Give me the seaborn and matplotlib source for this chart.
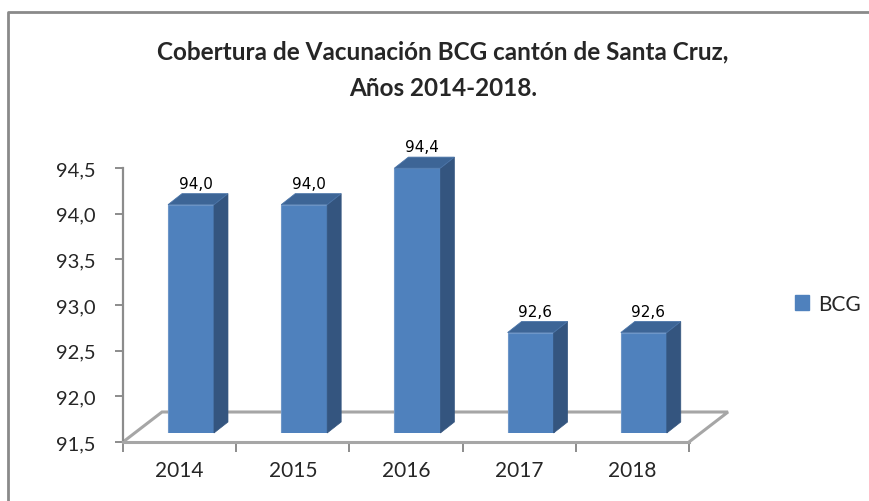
import matplotlib
matplotlib.use("Agg")
import matplotlib.pyplot as plt
from matplotlib.patches import Polygon, Rectangle
from matplotlib.lines import Line2D
import seaborn as sns
import pandas as pd

# ---- data ----
years = ["2014", "2015", "2016", "2017", "2018"]
bcg = [94.0, 94.0, 94.4, 92.6, 92.6]
value_labels = ["94,0", "94,0", "94,4", "92,6", "92,6"]
y_ticks = [91.5, 92.0, 92.5, 93.0, 93.5, 94.0, 94.5]
y_tick_labels = ["91,5", "92,0", "92,5", "93,0", "93,5", "94,0", "94,5"]
series_name = "BCG"
title_line1 = "Cobertura de Vacunación BCG cantón de Santa Cruz,"
title_line2 = "Años 2014-2018."

df = pd.DataFrame({"Año": years, "BCG": bcg})

sns.set_theme(style="white")
plt.rcParams["font.family"] = ["Lato", "DejaVu Sans"]

W, H = 870, 502
fig = plt.figure(figsize=(W / 100, H / 100), dpi=100)

FRONT = "#4F81BD"
SIDE = "#34557F"
TOP = "#3D6596"
GRID = "#A6A6A6"
AXC = "#8C8C8C"

def fpos(x0, ybot, w, h):
    return [x0 / W, 1 - ybot / H, w / W, h / H]

# front plane axes (axis, ticks, floor)
axw, axh = 566, 274
axA = fig.add_axes(fpos(123, 443, axw, axh))
# bar plane axes (shifted into depth)
bdx, bdy = 11.4, 9
axB = fig.add_axes(fpos(123 + bdx, 443 - bdy, axw, axh))

ylo, yhi = 91.5, 94.5
for a in (axA, axB):
    a.set_xlim(-0.5, len(years) - 0.5)
    a.set_ylim(ylo, yhi)
axB.patch.set_alpha(0)
axA.patch.set_alpha(0)

# px -> data scale
sx = (len(years)) / axw
sy = (yhi - ylo) / axh

# floor (behind bars)
FDX, FDY = 39 * sx, 30 * sy
x_left, x_right = -0.5, len(years) - 0.5
floor = [(x_left, ylo), (x_left + FDX, ylo + FDY), (x_right + FDX, ylo + FDY), (x_right, ylo)]
axA.add_line(Line2D([p[0] for p in floor], [p[1] for p in floor], color=GRID, lw=2.2,
                    clip_on=False, solid_joinstyle="miter"))

# bars
sns.barplot(data=df, x="Año", y="BCG", ax=axB, width=0.406, color=FRONT, saturation=1,
            edgecolor="#6E96C8", linewidth=0.8)
axB.set_xlim(-0.5, len(years) - 0.5)
axB.set_ylim(ylo, yhi)

DDX, DDY = 14 * sx, 11 * sy
for p, lab in zip(axB.patches, value_labels):
    x0 = p.get_x()
    x1 = x0 + p.get_width()
    v = p.get_y() + p.get_height()
    side = Polygon([(x1, ylo), (x1, v), (x1 + DDX, v + DDY), (x1 + DDX, ylo + DDY)],
                   closed=True, facecolor=SIDE, edgecolor=SIDE, lw=0.5, clip_on=False, zorder=2)
    top = Polygon([(x0, v), (x1, v), (x1 + DDX, v + DDY), (x0 + DDX, v + DDY)],
                  closed=True, facecolor=TOP, edgecolor="#4A74A8", lw=0.6, clip_on=False, zorder=2)
    axB.add_patch(side)
    axB.add_patch(top)
    axB.text((x0 + x1) / 2 + DDX / 3, v + DDY + 3 * sy, lab, ha="center", va="bottom",
             fontsize=11, family="DejaVu Sans", color="black", clip_on=False)

axB.set_axis_off()

# axis styling on front plane
for s in ["top", "right"]:
    axA.spines[s].set_visible(False)
axA.spines["left"].set_color(AXC)
axA.spines["left"].set_linewidth(1.6)
axA.spines["bottom"].set_color(GRID)
axA.spines["bottom"].set_linewidth(2.2)
axA.set_yticks(y_ticks)
axA.set_yticklabels(y_tick_labels, fontsize=14.5)
axA.tick_params(axis="y", length=6, width=1.4, color=AXC, pad=14, left=True)
axA.set_xticks(range(len(years)))
axA.set_xticklabels(years, fontsize=15)
axA.tick_params(axis="x", which="major", length=0, pad=13)
axA.set_xticks([i - 0.5 for i in range(len(years) + 1)], minor=True)
axA.tick_params(axis="x", which="minor", length=7, width=1.4, color=AXC, bottom=True)
axA.set_xlabel("")
axA.set_ylabel("")

# title
fig.text(443 / W, 1 - 52 / H, title_line1, ha="center", va="center", fontsize=17.5,
         fontweight="bold")
fig.text(443 / W, 1 - 88 / H, title_line2, ha="center", va="center",
         fontsize=17.5, fontweight="bold")

# legend
handles = [Rectangle((0, 0), 1, 1, facecolor=FRONT, edgecolor=FRONT)]
fig.legend(handles, [series_name], loc="center left", bbox_to_anchor=(776 / W, 1 - 305 / H),
           frameon=False, fontsize=15, handlelength=0.7, handleheight=0.7, handletextpad=0.4)

# outer frame
fig.add_artist(Line2D([8 / W, 8 / W, 1.0], [0, 1 - 13 / H, 1 - 13 / H],
                      transform=fig.transFigure, color="#8A8A8A", lw=2))

fig.savefig("out.png", dpi=100)
